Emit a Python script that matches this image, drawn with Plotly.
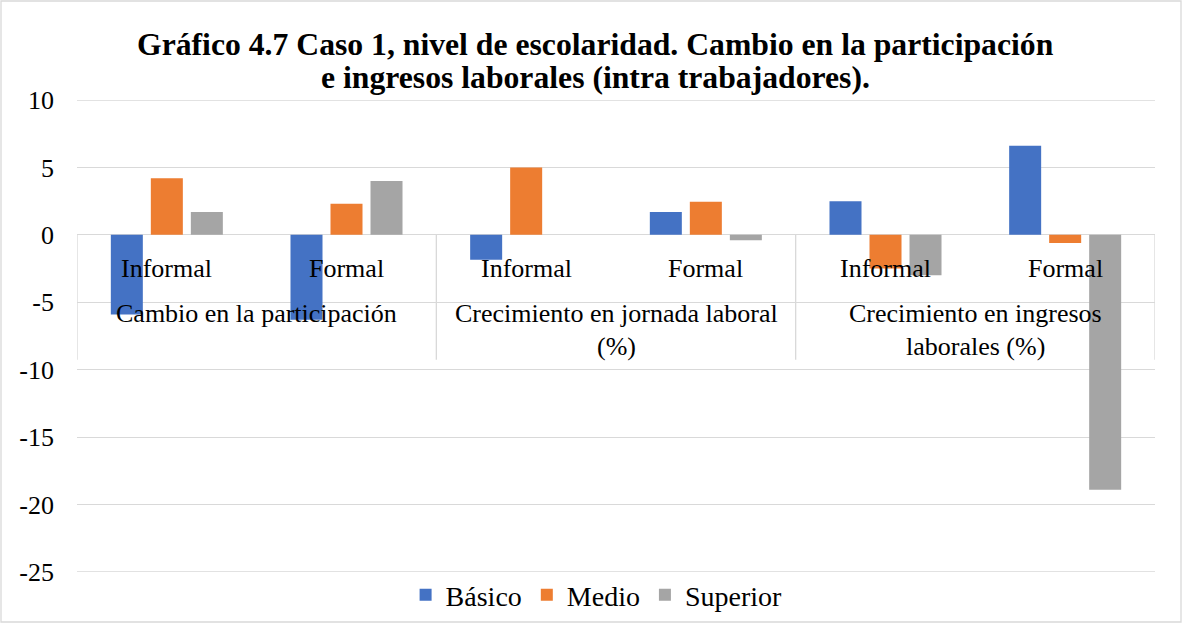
import plotly.graph_objects as go

# ---- data ----
groups = [["Cambio en la participación"],
          ["Crecimiento en jornada laboral", "(%)"],
          ["Crecimiento en ingresos", "laborales (%)"]]
subcats = ["Informal", "Formal"]
series_names = ["Básico", "Medio", "Superior"]
basico = [-5.9, -6.3, -1.85, 1.7, 2.5, 6.6]
medio = [4.2, 2.3, 5.0, 2.45, -2.5, -0.6]
superior = [1.7, 4.0, 0.0, -0.4, -3.0, -18.9]
colors = ["#4472C4", "#ED7D31", "#A5A5A5"]
y_ticks = [10, 5, 0, -5, -10, -15, -20, -25]

n_cat = len(groups) * len(subcats)
xpos = list(range(n_cat))

FONT = "Liberation Serif, Times New Roman, serif"
GRID = "#d9d9d9"

fig = go.Figure()
for name, vals, col in zip(series_names, [basico, medio, superior], colors):
    fig.add_trace(go.Bar(x=xpos, y=vals, name=name, marker_color=col,
                         marker_line_width=0))

W, H = 1183, 624
ml, mr, mt, mb = 77, 28, 100, 52
pw = W - ml - mr
ph = H - mt - mb


def px_x(p):
    return (p - ml) / pw


def px_y(p):
    return (H - mb - p) / ph


annotations = []
# level-1 labels
for i in range(n_cat):
    annotations.append(dict(x=i, y=-2.5, xref="x", yref="y", text=subcats[i % 2],
                            showarrow=False, yanchor="middle",
                            font=dict(family=FONT, size=26, color="#000000")))
# level-2 labels
for g, lines in enumerate(groups):
    xc = 2 * g + 0.5
    for k, line in enumerate(lines):
        annotations.append(dict(x=xc, y=-5.86 - k * 2.45, xref="x", yref="y", text=line,
                                showarrow=False, yanchor="middle",
                                font=dict(family=FONT, size=26, color="#000000")))

# title
title_lines = ["Gráfico 4.7 Caso 1, nivel de escolaridad. Cambio en la participación",
               "e ingresos laborales (intra trabajadores)."]
for k, t in enumerate(title_lines):
    annotations.append(dict(x=px_x(595), y=px_y(45 + 33 * k), xref="paper", yref="paper",
                            text="<b>" + t + "</b>", showarrow=False,
                            xanchor="center", yanchor="middle",
                            font=dict(family=FONT, size=31.7, color="#000000")))

shapes = []
# edge gridlines (plotly skips grid lines that sit on the plot edges)
for yv in [y_ticks[0], y_ticks[-1]]:
    shapes.append(dict(type="line", xref="paper", yref="y", x0=0, x1=1, y0=yv, y1=yv,
                       line=dict(color=GRID, width=1.3), layer="below"))
# category table lines
table_bottom = -9.27
for xb in [-0.5, 1.5, 3.5, 5.5]:
    shapes.append(dict(type="line", xref="x", yref="y", x0=xb, x1=xb, y0=0, y1=table_bottom,
                       line=dict(color=GRID, width=1.3), layer="below"))
# outer border
shapes.append(dict(type="rect", xref="paper", yref="paper",
                   x0=px_x(1), x1=px_x(1181), y0=px_y(622), y1=px_y(1),
                   line=dict(color=GRID, width=1.3), fillcolor="rgba(0,0,0,0)"))

fig.update_layout(
    width=W, height=H,
    margin=dict(l=ml, r=mr, t=mt, b=mb, autoexpand=False),
    paper_bgcolor="white", plot_bgcolor="white",
    barmode="group", bargap=0.332, bargroupgap=0.2,
    font=dict(family=FONT, size=26, color="#000000"),
    xaxis=dict(range=[-0.5, n_cat - 0.5], showticklabels=False, showgrid=False,
               zeroline=False, showline=False, ticks=""),
    yaxis=dict(range=[-25, 10], tickvals=y_ticks, ticktext=[str(v) for v in y_ticks],
               showgrid=True, gridcolor=GRID,
               gridwidth=1.3, zeroline=True, zerolinecolor=GRID, zerolinewidth=1.3,
               showline=False, ticks="", ticklabelstandoff=22,
               tickfont=dict(family=FONT, size=26, color="#000000")),
    legend=dict(orientation="h", x=0.482, xanchor="center", y=px_y(595), yanchor="middle",
                font=dict(family=FONT, size=28, color="#000000"), bgcolor="rgba(0,0,0,0)"),
    annotations=annotations,
    shapes=shapes,
    showlegend=True,
)

fig.write_html("out.html", config={"displayModeBar": False},
               post_script="document.body.style.margin='0';document.body.style.overflow='hidden';")
